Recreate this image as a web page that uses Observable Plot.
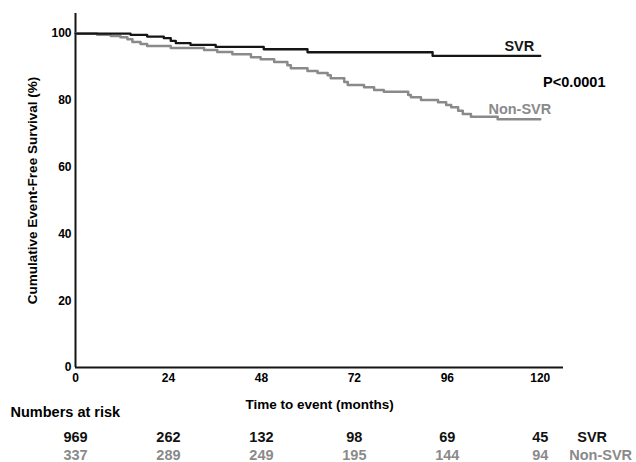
<!DOCTYPE html>
<html>
<head>
<meta charset="utf-8">
<script src="https://cdn.jsdelivr.net/npm/d3@7"></script>
<script src="https://cdn.jsdelivr.net/npm/@observablehq/plot@0.6"></script>
<style>
  html, body { margin: 0; padding: 0; background: #fff; }
  #chart { width: 636px; height: 462px; }
</style>
</head>
<body>
<div id="chart"></div>
<script>
// ---- Data ----
const months = [0, 24, 48, 72, 96, 120];
const yTicks = [0, 20, 40, 60, 80, 100];
const riskSVR = [969, 262, 132, 98, 69, 45];
const riskNonSVR = [337, 289, 249, 195, 144, 94];

const svrTime = [0, 14.2, 18.5, 22.8, 24.6, 25.9, 29.7, 36.2, 48.6, 59.9, 92.2, 120];
const svrSurv = [100, 99.6, 99.1, 98.6, 97.8, 97.1, 96.6, 96.0, 95.3, 94.4, 93.3, 93.3];

const nonTime = [0, 5.6, 9.1, 11.6, 13.4, 14.7, 16.8, 18.5, 24.6, 33.2, 36.6, 40.5, 45.3, 47.8, 51.3, 54.7, 55.6, 59.9, 62.5, 65.1, 65.9, 69.4, 70.3, 74.5, 77.1, 79.6, 85.9, 86.6, 89.2, 93.6, 95.7, 97.0, 98.8, 100.0, 102.1, 109.0, 120];
const nonSurv = [100, 99.6, 99.3, 98.9, 98.3, 97.5, 96.9, 96.3, 95.7, 95.1, 94.5, 93.8, 92.9, 92.3, 91.5, 90.5, 89.6, 88.8, 88.2, 87.5, 86.6, 85.5, 84.6, 83.9, 83.1, 82.6, 81.6, 80.9, 80.1, 79.4, 78.6, 77.9, 76.9, 75.9, 75.1, 74.3, 74.3];

const seriesNames = ["SVR", "Non-SVR"];
const pValueText = "P<0.0001";
const yLabel = "Cumulative Event-Free Survival (%)";
const xLabel = "Time to event (months)";
const riskTitle = "Numbers at risk";

// ---- Build tables ----
const svr = svrTime.map((t, i) => ({t, s: svrSurv[i]}));
const non = nonTime.map((t, i) => ({t, s: nonSurv[i]}));
const riskS = months.map((m, i) => ({m, n: riskSVR[i]}));
const riskN = months.map((m, i) => ({m, n: riskNonSVR[i]}));

const BLACK = "#151515";
const GRAY = "#8a8a8a";
const FONT = "'Liberation Sans', Arial, Helvetica, sans-serif";

const chart = Plot.plot({
  width: 636,
  height: 462,
  marginLeft: 75,
  marginRight: 73,
  marginTop: 13,
  marginBottom: 95,
  style: {fontFamily: FONT, fontWeight: "bold", fontSize: "12px", background: "#fff", color: "#000", overflow: "visible"},
  x: {domain: [0, 126], ticks: months, tickSize: 0, tickPadding: 6, label: null},
  y: {domain: [0, 106], ticks: yTicks, tickSize: 0, tickPadding: 4, label: null},
  marks: [
    Plot.ruleX([0], {stroke: BLACK, strokeWidth: 2}),
    Plot.ruleY([0], {stroke: BLACK, strokeWidth: 2}),
    Plot.line(non, {x: "t", y: "s", curve: "step-after", stroke: GRAY, strokeWidth: 2.5}),
    Plot.line(svr, {x: "t", y: "s", curve: "step-after", stroke: BLACK, strokeWidth: 2.3}),
    // Curve labels anchored at the last point of each curve
    Plot.text([svr[svr.length - 1]], {x: "t", y: "s", text: () => seriesNames[0], textAnchor: "end", dx: -6, dy: -10, fontSize: 14.5, fill: BLACK}),
    Plot.text([non[non.length - 1]], {x: "t", y: "s", text: () => seriesNames[1], textAnchor: "end", dx: 11, dy: -10, fontSize: 14.5, fill: GRAY}),
    Plot.text([pValueText], {frameAnchor: "top-right", textAnchor: "end", lineAnchor: "middle", dx: 42, dy: 69, fontSize: 14.5, fill: "#000"}),
    // Axis titles
    Plot.text([yLabel], {frameAnchor: "left", textAnchor: "middle", lineAnchor: "middle", rotate: -90, dx: -43, fontSize: 13.5, fill: "#000"}),
    Plot.text([xLabel], {frameAnchor: "bottom", textAnchor: "middle", lineAnchor: "middle", dy: 37, fontSize: 13.5, fill: "#000"}),
    // Risk table
    Plot.text([riskTitle], {frameAnchor: "bottom-left", textAnchor: "start", lineAnchor: "middle", dx: -65, dy: 45, fontSize: 14.5, fill: "#000"}),
    Plot.text(riskS, {x: "m", text: "n", frameAnchor: "bottom", lineAnchor: "middle", dy: 70, fontSize: 14.5, fill: "#111"}),
    Plot.text(riskN, {x: "m", text: "n", frameAnchor: "bottom", lineAnchor: "middle", dy: 88, fontSize: 14.5, fill: GRAY}),
    Plot.text([120], {x: d => d, text: () => seriesNames[0], frameAnchor: "bottom", textAnchor: "start", lineAnchor: "middle", dx: 37, dy: 70, fontSize: 14.5, fill: "#111"}),
    Plot.text([120], {x: d => d, text: () => seriesNames[1], frameAnchor: "bottom", textAnchor: "start", lineAnchor: "middle", dx: 29, dy: 88, fontSize: 14.5, fill: GRAY})
  ]
});
document.getElementById("chart").appendChild(chart);
</script>
</body>
</html>
